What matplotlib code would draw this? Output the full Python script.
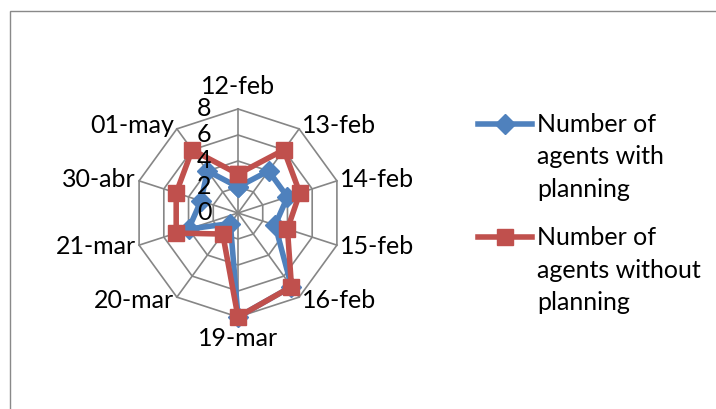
import numpy as np
import matplotlib
matplotlib.use("Agg")
import matplotlib.pyplot as plt
from matplotlib.lines import Line2D
from matplotlib.patches import Rectangle

# ---- data -------------------------------------------------------------
categories = ['12-feb', '13-feb', '14-feb', '15-feb', '16-feb',
              '19-mar', '20-mar', '21-mar', '30-abr', '01-may']
with_planning = [2, 4, 4, 3, 7, 8, 1, 4, 3, 4]
without_planning = [3, 6, 5, 4, 7, 8, 2, 5, 5, 6]
ring_ticks = [0, 2, 4, 6, 8]
series_labels = ['Number of\nagents with\nplanning',
                 'Number of\nagents without\nplanning']

# ---- style ------------------------------------------------------------
BLUE = '#4F81BD'
RED = '#C0504D'
GRID = '#868686'
plt.rcParams['font.family'] = ['Lato', 'DejaVu Sans']
FS = 18

W, H = 716, 409
fig = plt.figure(figsize=(W / 100, H / 100), dpi=100)

# chart-area border (runs off the right and bottom edges)
fig.add_artist(Rectangle((10 / W, -0.2), 2, 1.2 - 11 / H,
                         transform=fig.transFigure, fill=False,
                         ec='#898989', lw=1.0))

# radar axes: centre and radius in pixels
cx, cy, R = 238, 213, 104
ax = fig.add_axes([(cx - R) / W, (H - cy - R) / H, 2 * R / W, 2 * R / H],
                  projection='polar')
ax.set_theta_zero_location('N')
ax.set_theta_direction(-1)
ax.grid(False)
ax.spines['polar'].set_visible(False)
ax.set_xticks([])
ax.set_yticks([])
ax.patch.set_visible(False)

n = len(categories)
theta = np.arange(n) * 2 * np.pi / n
theta_closed = np.append(theta, theta[0])
rmax = ring_ticks[-1]

# polygonal grid and spokes
for r in ring_ticks[1:]:
    ax.plot(theta_closed, [r] * (n + 1), color=GRID, lw=1.2, zorder=1,
            clip_on=False)
for t in theta:
    ax.plot([t, t], [0, rmax], color=GRID, lw=1.2, zorder=1, clip_on=False)

# series
ax.plot(theta_closed, with_planning + with_planning[:1], color=BLUE, lw=4,
        marker='D', ms=10, mfc=BLUE, mec=BLUE, zorder=3, clip_on=False)
ax.plot(theta_closed, without_planning + without_planning[:1], color=RED,
        lw=4, marker='s', ms=12, mfc=RED, mec=RED, zorder=4, clip_on=False)

# value labels along the upward spoke
for r in ring_ticks:
    ax.annotate(str(r), xy=(0, r), xytext=(-34, 0), textcoords='offset pixels',
                ha='center', va='center', fontsize=FS, zorder=6,
                annotation_clip=False)

# category labels
for t, lab in zip(theta, categories):
    s, c = np.sin(t), np.cos(t)
    if s > 0.1:
        ha, dx, dy = 'left', 3, 4 * c
    elif s < -0.1:
        ha, dx, dy = 'right', -3, 4 * c
    else:
        ha, dx, dy = 'center', 0, 22 * np.sign(c)
    ax.annotate(lab, xy=(t, rmax), xytext=(dx, dy), textcoords='offset pixels',
                ha=ha, va='center', fontsize=FS, zorder=6,
                annotation_clip=False)

ax.set_ylim(0, rmax)

# legend
legend_rows = [124, 237]
for y, lab, col, mk, ms in zip(legend_rows, series_labels, [BLUE, RED],
                               ['D', 's'], [10, 12]):
    yf = 1 - y / H
    fig.add_artist(Line2D([478 / W, 532 / W], [yf, yf], color=col, lw=4,
                          transform=fig.transFigure))
    fig.add_artist(Line2D([505 / W], [yf], color=col, marker=mk, ms=ms,
                          mfc=col, mec=col, transform=fig.transFigure))
    fig.text(537 / W, 1 - (y - 11) / H, lab, ha='left', va='top',
             fontsize=FS, linespacing=1.5)

fig.savefig('out.png', dpi=100)
